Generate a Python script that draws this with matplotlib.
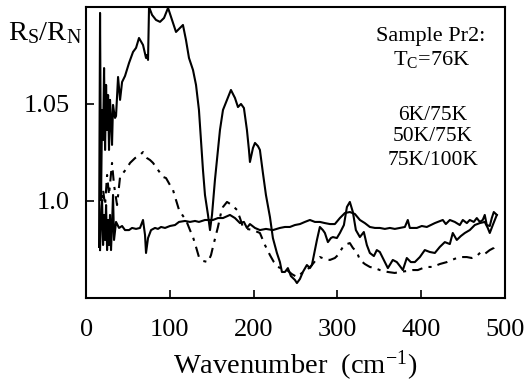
import matplotlib
matplotlib.use("Agg")
import matplotlib.pyplot as plt

plt.rcParams["font.family"] = ["Liberation Serif", "DejaVu Serif"]
plt.rcParams["mathtext.fontset"] = "custom"
plt.rcParams["mathtext.rm"] = "Liberation Serif"
plt.rcParams["mathtext.it"] = "Liberation Serif:italic"

# 6K/75K
x_6k = [15.5, 16.7, 17.9, 19.1, 20.3, 21.5, 22.7, 23.9, 25.1, 26.3, 27.4, 28.6, 29.8, 31.0,
        32.2, 33.4, 34.6, 35.8, 38.2, 40.6, 43.0, 46.5, 51.3, 56.1, 59.7, 63.2, 68.0, 71.6,
        72.8, 74.0, 75.2, 78.8, 83.5, 88.3, 93.1, 97.9, 102.6, 107.4, 112.2, 115.7, 119.3,
        122.9, 127.7, 131.3, 134.8, 137.2, 139.6, 142.0, 145.6, 148.0, 150.4, 153.9, 156.3,
        159.9, 163.5, 168.3, 173.0, 177.8, 181.4, 185.0, 188.5, 192.1, 194.5, 195.7, 199.3,
        201.7, 205.2, 207.6, 211.2, 214.8, 219.6, 223.1, 227.9, 231.5, 233.9, 237.5, 241.0,
        244.6, 249.4, 251.8, 255.4, 258.9, 263.7, 267.3, 269.7, 273.3, 275.7, 279.2, 282.8,
        285.2, 288.8, 292.4, 294.7, 299.5, 303.1, 307.9, 311.5, 315.0, 318.6, 322.2, 327.0,
        331.7, 335.3, 338.9, 343.7, 347.2, 350.8, 354.4, 360.4, 366.3, 371.1, 374.7, 378.3,
        383.0, 387.8, 392.6, 398.6, 404.5, 410.5, 416.5, 422.4, 428.4, 434.4, 437.9, 442.7,
        447.5, 452.3, 458.2, 464.2, 470.2, 476.1, 479.7, 482.1, 485.7, 490.5]
y_6k = [0.9763, 1.0969, 1.0005, 1.0469, 1.0314, 1.0685, 1.0263, 1.0598, 1.0366, 1.0546,
        1.0263, 1.0521, 1.0417, 1.0289, 1.0495, 1.0459, 1.0428, 1.0438, 1.0639, 1.0521,
        1.0613, 1.0644, 1.0711, 1.0768, 1.0789, 1.0840, 1.0804, 1.0737, 1.0752, 1.0727,
        1.1000, 1.0959, 1.0933, 1.0923, 1.0943, 1.0995, 1.0933, 1.0871, 1.0892, 1.0907,
        1.0830, 1.0737, 1.0675, 1.0598, 1.0469, 1.0314, 1.0160, 1.0031, 0.9928, 0.9850,
        0.9928, 1.0108, 1.0211, 1.0366, 1.0469, 1.0521, 1.0572, 1.0531, 1.0484, 1.0500,
        1.0479, 1.0366, 1.0263, 1.0201, 1.0273, 1.0299, 1.0283, 1.0263, 1.0144, 1.0031,
        0.9917, 0.9809, 0.9732, 0.9685, 0.9634, 0.9634, 0.9654, 0.9613, 0.9593, 0.9577,
        0.9598, 0.9634, 0.9670, 0.9654, 0.9670, 0.9747, 0.9799, 0.9866, 0.9850, 0.9835,
        0.9788, 0.9809, 0.9814, 0.9809, 0.9835, 0.9876, 0.9969, 0.9995, 0.9943, 0.9850,
        0.9814, 0.9840, 0.9773, 0.9732, 0.9716, 0.9747, 0.9737, 0.9706, 0.9654, 0.9696,
        0.9685, 0.9665, 0.9644, 0.9706, 0.9685, 0.9685, 0.9711, 0.9747, 0.9737, 0.9732,
        0.9763, 0.9788, 0.9778, 0.9835, 0.9799, 0.9819, 0.9835, 0.9850, 0.9876, 0.9886,
        0.9892, 0.9861, 0.9835, 0.9876, 0.9928]

# 75K/100K (flat one)
x_75k = [16.7, 17.9, 19.1, 20.3, 21.5, 22.7, 23.9, 25.1, 26.3, 27.4, 28.6, 29.8, 31.0, 32.2,
         33.4, 35.8, 39.4, 43.0, 46.5, 51.3, 54.9, 59.7, 64.4, 68.0, 70.4, 71.6, 74.0, 77.6,
         82.3, 85.9, 89.5, 94.3, 100.2, 106.2, 111.0, 118.1, 124.1, 130.1, 134.8, 142.0,
         148.0, 151.5, 157.5, 163.5, 171.8, 177.8, 183.8, 188.5, 192.1, 195.7, 201.7, 207.6,
         214.8, 223.1, 231.5, 237.5, 243.4, 249.4, 255.4, 261.3, 267.3, 273.3, 279.2, 285.2,
         291.2, 297.1, 303.1, 309.1, 315.0, 321.0, 327.0, 332.9, 338.9, 344.9, 350.8, 356.8,
         362.8, 368.7, 374.7, 380.7, 384.2, 386.6, 395.0, 400.9, 406.9, 411.7, 416.5, 420.0,
         426.0, 429.6, 434.4, 440.3, 446.3, 449.9, 454.7, 458.2, 463.0, 466.6, 470.2, 473.7,
         476.1, 478.5, 482.1, 484.5, 486.9, 490.5]
y_75k = [0.9747, 0.9928, 1.0005, 0.9773, 0.9928, 0.9799, 0.9979, 0.9747, 0.9902, 0.9773,
         0.9928, 0.9747, 0.9876, 1.0031, 0.9799, 0.9892, 0.9861, 0.9871, 0.9850, 0.9850,
         0.9861, 0.9856, 0.9861, 0.9902, 0.9825, 0.9732, 0.9809, 0.9850, 0.9861, 0.9856,
         0.9866, 0.9861, 0.9871, 0.9876, 0.9892, 0.9897, 0.9892, 0.9897, 0.9892, 0.9902,
         0.9902, 0.9902, 0.9912, 0.9912, 0.9928, 0.9912, 0.9886, 0.9892, 0.9861, 0.9881,
         0.9861, 0.9850, 0.9856, 0.9850, 0.9861, 0.9866, 0.9866, 0.9876, 0.9881, 0.9892,
         0.9902, 0.9892, 0.9892, 0.9886, 0.9881, 0.9881, 0.9912, 0.9938, 0.9943, 0.9933,
         0.9902, 0.9886, 0.9866, 0.9861, 0.9861, 0.9856, 0.9861, 0.9856, 0.9861, 0.9866,
         0.9902, 0.9861, 0.9861, 0.9871, 0.9866, 0.9876, 0.9886, 0.9892, 0.9902, 0.9881,
         0.9902, 0.9892, 0.9876, 0.9902, 0.9886, 0.9902, 0.9892, 0.9912, 0.9892, 0.9902,
         0.9928, 0.9876, 0.9871, 0.9912, 0.9943, 0.9928]

# 50K/75K (dash-dot)
x_50k = [17.9, 20.3, 22.7, 25.1, 27.4, 31.0, 33.4, 37.0, 40.6, 44.2, 48.9, 52.5, 58.5, 64.4,
         68.0, 72.8, 76.4, 80.0, 85.9, 91.9, 95.5, 100.2, 103.8, 107.4, 111.0, 115.7, 119.3,
         124.1, 127.7, 131.3, 134.8, 139.6, 145.6, 149.2, 151.5, 155.1, 157.5, 161.1, 163.5,
         168.3, 174.2, 180.2, 183.8, 187.3, 192.1, 199.3, 207.6, 213.6, 219.6, 224.3, 229.1,
         235.1, 239.9, 245.8, 251.8, 257.8, 263.7, 269.7, 274.5, 279.2, 285.2, 291.2, 297.1,
         300.7, 306.7, 311.5, 315.0, 318.6, 323.4, 327.0, 332.9, 338.9, 344.9, 350.8, 360.4,
         368.7, 374.7, 383.0, 390.2, 396.2, 402.1, 408.1, 414.1, 422.4, 430.8, 436.8, 442.7,
         448.7, 454.7, 460.6, 466.6, 471.4, 476.1, 482.1, 486.9, 490.5]
y_50k = [0.9928, 1.0057, 0.9979, 1.0134, 1.0031, 1.0196, 1.0082, 0.9979, 1.0124, 1.0144,
         1.0170, 1.0196, 1.0221, 1.0237, 1.0252, 1.0221, 1.0211, 1.0196, 1.0160, 1.0124,
         1.0118, 1.0082, 1.0057, 1.0005, 0.9954, 0.9923, 0.9902, 0.9850, 0.9814, 0.9763,
         0.9711, 0.9691, 0.9685, 0.9721, 0.9763, 0.9825, 0.9866, 0.9938, 0.9969, 0.9995,
         0.9979, 0.9954, 0.9912, 0.9866, 0.9856, 0.9850, 0.9835, 0.9773, 0.9721, 0.9685,
         0.9660, 0.9649, 0.9644, 0.9623, 0.9608, 0.9629, 0.9644, 0.9670, 0.9696, 0.9711,
         0.9701, 0.9696, 0.9706, 0.9721, 0.9763, 0.9778, 0.9783, 0.9758, 0.9737, 0.9696,
         0.9675, 0.9660, 0.9654, 0.9644, 0.9634, 0.9629, 0.9634, 0.9639, 0.9644, 0.9644,
         0.9654, 0.9660, 0.9660, 0.9675, 0.9685, 0.9696, 0.9706, 0.9711, 0.9711, 0.9706,
         0.9716, 0.9737, 0.9727, 0.9747, 0.9758, 0.9783]

x_ticks = [0, 100, 200, 300, 400, 500]
y_ticks = [1.0, 1.05]
y_tick_labels = ["1.0", "1.05"]
labels = ["6K/75K", "50K/75K", "75K/100K"]
label_y = [1.0443, 1.0330, 1.0211]

fig = plt.figure(figsize=(5.28, 3.85), dpi=100)
ax = fig.add_axes([0.163, 0.226, 0.793, 0.756])

ax.plot(x_6k, y_6k, color="black", lw=1.5)
ax.plot(x_75k, y_75k, color="black", lw=1.5)
ax.plot(x_50k, y_50k, color="black", lw=1.5, linestyle=(0, (5, 3, 1.5, 3)))

ax.set_xlim(0, 500)
ax.set_ylim(0.95, 1.10)
ax.set_xticks(x_ticks)
ax.set_yticks(y_ticks)
ax.set_yticklabels(y_tick_labels)
ax.tick_params(direction="in", length=6, width=1.2, labelsize=19)
ax.tick_params(axis="x", pad=15)
ax.tick_params(axis="y", pad=12)
for s in ax.spines.values():
    s.set_linewidth(1.5)

ax.set_xlabel("Wavenumber  (cm$^{-1}$)", fontsize=20.5, labelpad=6)
fig.text(0.015, 0.915, r"R$_\mathrm{S}$/R$_\mathrm{N}$", fontsize=20.5, ha="left", va="center")

ax.text(412, 1.0850, "Sample Pr2:", fontsize=16, ha="center", va="center")
ax.text(413, 1.0730, r"T$_\mathrm{C}$=76K", fontsize=16, ha="center", va="center")
for lab, yy in zip(labels, label_y):
    ax.text(414, yy, lab, fontsize=15.5, ha="center", va="center")

fig.savefig("out.png", dpi=100)
